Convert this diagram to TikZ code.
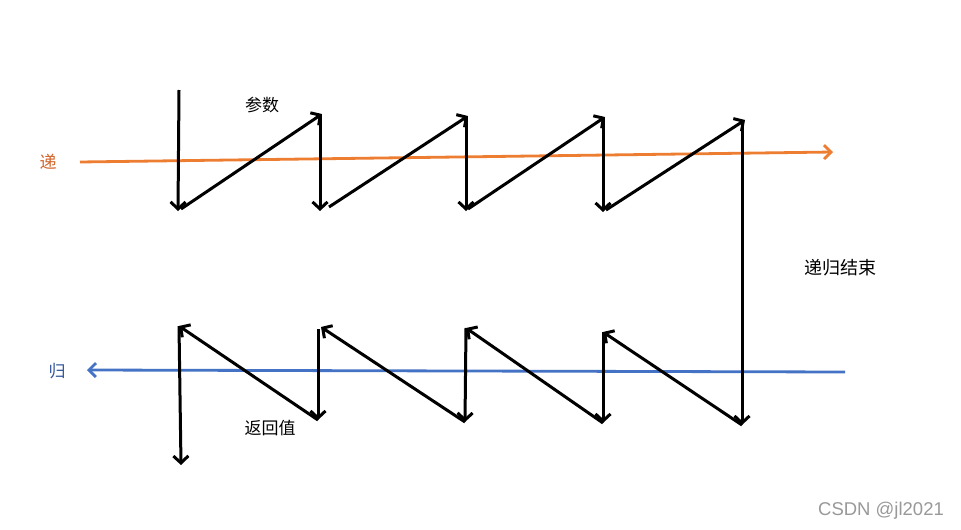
\documentclass[tikz,border=0pt]{standalone}
\usepackage{fontspec}
\newfontfamily\cjk{Noto Sans CJK SC}
\setsansfont{Liberation Sans}
\usetikzlibrary{arrows.meta}
\definecolor{orangeL}{HTML}{ED7D31}
\definecolor{blueL}{HTML}{4472C4}
\definecolor{orangeT}{HTML}{D2642A}
\definecolor{blueT}{HTML}{35589E}
\tikzset{
  arr/.style={line width=3pt, draw=black, -{Straight Barb[length=7pt,width=15pt,line width=3pt]}},
  flow/.style={line width=2.8pt, -{Straight Barb[length=7pt,width=14pt,line width=2.8pt]}},
  lbl/.style={font=\cjk\fontsize{17}{19}\selectfont, inner sep=0pt},
}
\begin{document}
\begin{tikzpicture}[x=1pt,y=-1pt]
\useasboundingbox (0,0) rectangle (961,530);
\fill[white] (0,0) rectangle (961,530);
% top row points
\coordinate (t0) at (179,90);
\coordinate (b1) at (178,211);
\coordinate (s1) at (181,209);
\coordinate (a1) at (322,114);
\coordinate (v1) at (320,115);
\coordinate (b2) at (320,211);
\coordinate (s2) at (329,207);
\coordinate (a2) at (468,116);
\coordinate (v2) at (466,117);
\coordinate (b3) at (466,211);
\coordinate (s3) at (468,209);
\coordinate (a3) at (605,117);
\coordinate (v3) at (603,118);
\coordinate (b4) at (603,212);
\coordinate (s4) at (606,210);
\coordinate (a4) at (745,120);
\coordinate (v4) at (742,121);
\coordinate (e) at (742,425);
% bottom row points
\coordinate (c4) at (603,332);
\coordinate (d4) at (603,423);
\coordinate (c3) at (466,328);
\coordinate (d3) at (465,422);
\coordinate (c2) at (321,327);
\coordinate (u2) at (318,329);
\coordinate (d2) at (318,420);
\coordinate (c1) at (179,326);
\coordinate (d1) at (181,465);
% flow lines
\coordinate (os) at (80,162);
\coordinate (oe) at (833,152);
\coordinate (bs) at (845,372);
\coordinate (be) at (87,370);
\draw[flow, orangeL] (os) -- (oe);
\draw[flow, blueL] (bs) -- (be);
% top arrows
\draw[arr] (t0) -- (b1);
\draw[arr] (s1) -- (a1);
\draw[arr] (v1) -- (b2);
\draw[arr] (s2) -- (a2);
\draw[arr] (v2) -- (b3);
\draw[arr] (s3) -- (a3);
\draw[arr] (v3) -- (b4);
\draw[arr] (s4) -- (a4);
\draw[arr] (v4) -- (e);
% bottom arrows
\draw[arr] (e) -- (c4);
\draw[arr] (c4) -- (d4);
\draw[arr] (d4) -- (c3);
\draw[arr] (c3) -- (d3);
\draw[arr] (d3) -- (c2);
\draw[arr] (u2) -- (d2);
\draw[arr] (d2) -- (c1);
\draw[arr] (c1) -- (d1);
% labels
\node[lbl, text=orangeT] (ldi) at (48,162) {递};
\node[lbl, text=blueT] (lgui) at (57,371) {归};
\node[lbl] (lcs) at (262,105) {参数};
\node[lbl] (lret) at (270,428) {返回值};
\node[lbl, font=\cjk\fontsize{18}{20}\selectfont] (lend) at (840,268) {递归结束};
\node[font=\sffamily\fontsize{18.5}{20}\selectfont, text=black!40, inner sep=0pt] (wm) at (881,511) {CSDN @jl2021};
\end{tikzpicture}
\end{document}
